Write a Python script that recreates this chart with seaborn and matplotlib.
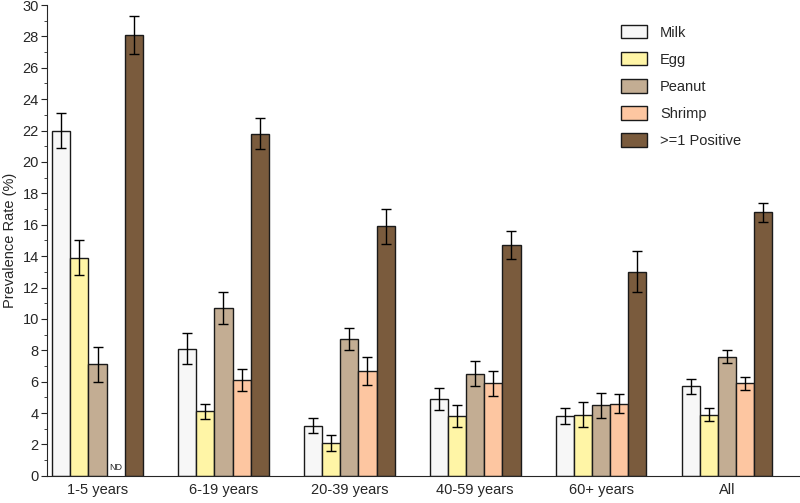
import numpy as np
import pandas as pd
import matplotlib
matplotlib.use("Agg")
import matplotlib.pyplot as plt
from matplotlib.ticker import MultipleLocator
import seaborn as sns

# ---- data ----
groups = ["1-5 years", "6-19 years", "20-39 years", "40-59 years", "60+ years", "All"]
allergens = ["Milk", "Egg", "Peanut", "Shrimp", ">=1 Positive"]

milk = [22.0, 8.1, 3.2, 4.9, 3.8, 5.7]
egg = [13.9, 4.1, 2.1, 3.8, 3.9, 3.9]
peanut = [7.1, 10.7, 8.7, 6.5, 4.5, 7.6]
shrimp = [0.0, 6.1, 6.7, 5.9, 4.6, 5.9]   # 1-5 years: ND
positive = [28.1, 21.8, 15.9, 14.7, 13.0, 16.8]

milk_err = [1.1, 1.0, 0.5, 0.7, 0.5, 0.5]
egg_err = [1.1, 0.5, 0.5, 0.7, 0.8, 0.4]
peanut_err = [1.1, 1.0, 0.7, 0.8, 0.8, 0.4]
shrimp_err = [0.0, 0.7, 0.9, 0.8, 0.6, 0.4]
positive_err = [1.2, 1.0, 1.1, 0.9, 1.3, 0.6]

not_determined = [("1-5 years", "Shrimp")]

colors = ["#f7f7f7", "#fff5a6", "#c3ad93", "#fdc6a1", "#7a5b3d"]

values = [milk, egg, peanut, shrimp, positive]
errors = [milk_err, egg_err, peanut_err, shrimp_err, positive_err]

rows = []
for a, vals, errs in zip(allergens, values, errors):
    for g, v, e in zip(groups, vals, errs):
        rows.append({"Group": g, "Allergen": a, "Rate": v, "Err": e})
df = pd.DataFrame(rows)

# ---- plot ----
sns.set_style("ticks")
plt.rcParams["font.family"] = ["Liberation Sans", "DejaVu Sans"]

fig = plt.figure(figsize=(8, 5.03), dpi=100)
ax = fig.add_axes([0.059, 0.054, 0.941, 0.936])

sns.barplot(data=df, x="Group", y="Rate", hue="Allergen", order=groups,
            hue_order=allergens, palette=colors, errorbar=None,
            edgecolor="#1a1a1a", linewidth=1.0, width=0.72, saturation=1, ax=ax)

for a, cont in zip(allergens, ax.containers):
    sub = df[df["Allergen"] == a].set_index("Group").loc[groups]
    for g, bar in zip(groups, cont.patches):
        xc = bar.get_x() + bar.get_width() / 2
        if (g, a) in not_determined:
            bar.set_visible(False)
            ax.text(xc, 0.25, "ND", ha="center", va="bottom", fontsize=6.5)
            continue
        ax.errorbar(xc, sub.loc[g, "Rate"], yerr=sub.loc[g, "Err"], fmt="none",
                    ecolor="black", elinewidth=1.0, capsize=3.5, capthick=1.0)

ax.set_ylim(0, 30)
ax.set_xlim(-0.40, 5.58)
ax.yaxis.set_major_locator(MultipleLocator(2))
ax.yaxis.set_minor_locator(MultipleLocator(1))
ax.tick_params(axis="y", which="major", length=4, labelsize=10.5, pad=2)
ax.tick_params(axis="y", which="minor", length=2.5)
ax.tick_params(axis="x", length=0, labelsize=10.5, pad=5)
ax.set_xlabel("")
ax.set_ylabel("Prevalence Rate (%)", fontsize=10.5, labelpad=4)
sns.despine(ax=ax)

ax.legend(loc="upper left", bbox_to_anchor=(0.762, 0.958), frameon=False,
          borderaxespad=0, borderpad=0,
          fontsize=10.5, handlelength=1.8, handleheight=1.05, labelspacing=0.85,
          handletextpad=0.9)

fig.savefig("out.png", dpi=100)
